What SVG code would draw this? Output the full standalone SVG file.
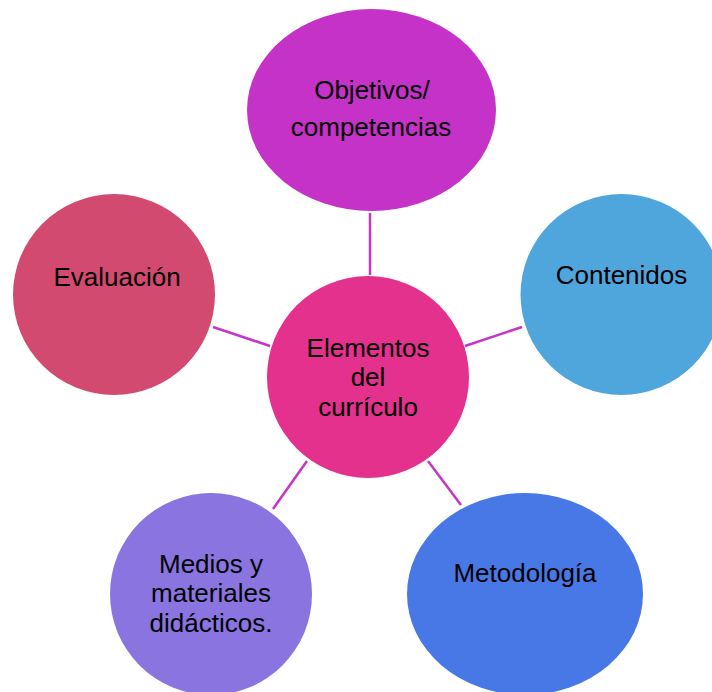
<svg xmlns="http://www.w3.org/2000/svg" width="712" height="692" viewBox="0 0 712 692">
<style>
  .lbl { font-family: "Liberation Sans", Arial, sans-serif; font-size: 26px; fill: #000; text-anchor: middle; }
  .conn line { stroke: #C535C6; stroke-width: 2.5; }
</style>
<rect width="712" height="692" fill="#FFFFFF"/>
<g id="connectors" class="conn">
  <line x1="370" y1="213" x2="370" y2="275"/>
  <line x1="465" y1="346" x2="522" y2="327"/>
  <line x1="270" y1="346" x2="213" y2="327"/>
  <line x1="307" y1="461" x2="273" y2="509"/>
  <line x1="428" y1="461" x2="461" y2="505"/>
</g>
<g id="node-objetivos">
  <ellipse cx="371.5" cy="110" rx="124.5" ry="101" fill="#C532C7"/>
  <text class="lbl"><tspan x="372" y="99">Objetivos/</tspan><tspan x="371" y="136">competencias</tspan></text>
</g>
<g id="node-contenidos">
  <ellipse cx="621.5" cy="294.5" rx="101" ry="100.5" fill="#4FA6DC"/>
  <text class="lbl" x="621.5" y="284">Contenidos</text>
</g>
<g id="node-evaluacion">
  <ellipse cx="114" cy="294.5" rx="101" ry="100.5" fill="#D34A71"/>
  <text class="lbl" x="117" y="286">Evaluación</text>
</g>
<g id="node-medios">
  <ellipse cx="211" cy="594" rx="101" ry="101" fill="#8A74E0"/>
  <text class="lbl"><tspan x="211" y="572.5">Medios y</tspan><tspan x="211" y="602">materiales</tspan><tspan x="211" y="631.5">didácticos.</tspan></text>
</g>
<g id="node-metodologia">
  <ellipse cx="525" cy="594" rx="118" ry="101" fill="#4878E6"/>
  <text class="lbl" x="525" y="582">Metodología</text>
</g>
<g id="node-center">
  <circle cx="368" cy="377" r="101" fill="#E3318D"/>
  <text class="lbl"><tspan x="368" y="356.5">Elementos</tspan><tspan x="368" y="386">del</tspan><tspan x="368" y="415.5">currículo</tspan></text>
</g>
</svg>
